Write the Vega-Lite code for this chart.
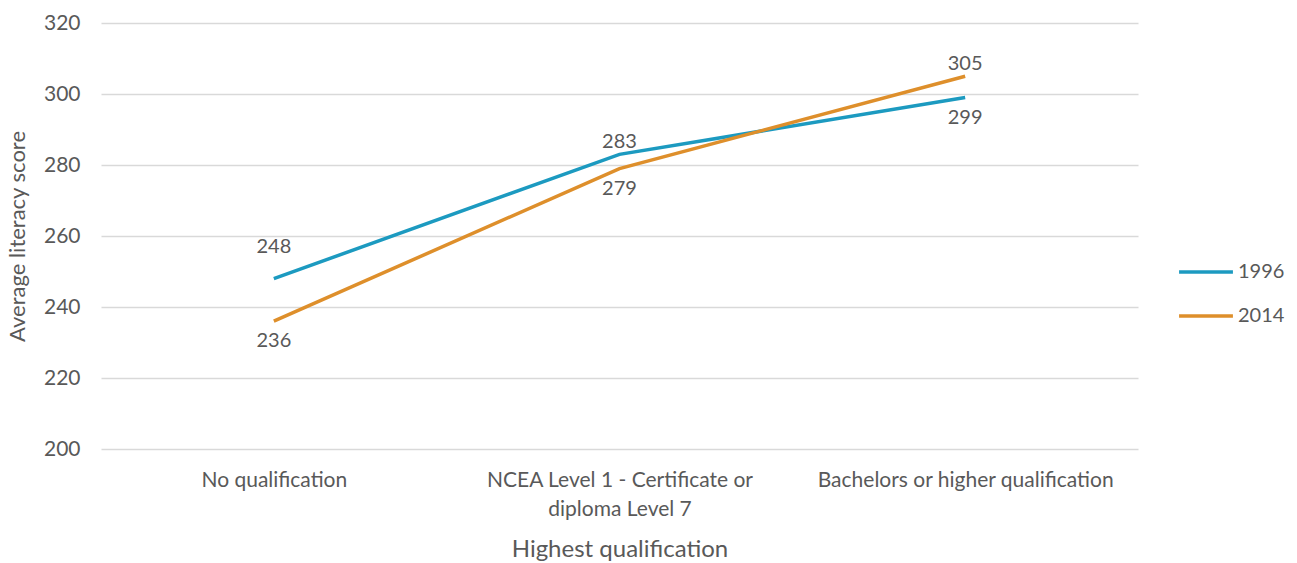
{
  "$schema": "https://vega.github.io/schema/vega-lite/v6.json",
  "width": 1037,
  "height": 426,
  "autosize": {"type": "none"},
  "padding": {"left": 101, "top": 23, "right": 159, "bottom": 114},
  "background": "white",
  "config": {
    "view": {"stroke": null},
    "font": "Lato",
    "axis": {"labelFont": "Lato", "titleFont": "Lato", "labelColor": "#595959", "titleColor": "#595959", "titleFontWeight": "normal"},
    "legend": {"labelFont": "Lato"}
  },
  "data": {
    "values": [
      {"qual": "No qualification", "year": "1996", "score": 248},
      {"qual": "NCEA Level 1 - Certificate or diploma Level 7", "year": "1996", "score": 283},
      {"qual": "Bachelors or higher qualification", "year": "1996", "score": 299},
      {"qual": "No qualification", "year": "2014", "score": 236},
      {"qual": "NCEA Level 1 - Certificate or diploma Level 7", "year": "2014", "score": 279},
      {"qual": "Bachelors or higher qualification", "year": "2014", "score": 305}
    ]
  },
  "encoding": {
    "x": {
      "field": "qual", "type": "nominal", "sort": null,
      "scale": {"type": "point", "padding": 0.5},
      "axis": {
        "title": "Highest qualification", "titleFontSize": 24, "titlePadding": 18,
        "labelAngle": 0, "labelFontSize": 21, "labelPadding": 20, "labelLineHeight": 29, "labelLimit": 0,
        "labelExpr": "datum.label == 'NCEA Level 1 - Certificate or diploma Level 7' ? ['NCEA Level 1 - Certificate or', 'diploma Level 7'] : datum.label",
        "domain": false, "ticks": false, "grid": false
      }
    },
    "y": {
      "field": "score", "type": "quantitative",
      "scale": {"domain": [200, 320], "nice": false, "zero": false},
      "axis": {
        "title": "Average literacy score", "titleFontSize": 22, "titlePadding": 14,
        "values": [200, 220, 240, 260, 280, 300, 320],
        "labelFontSize": 21, "labelPadding": 21,
        "domain": false, "ticks": false, "grid": true, "gridColor": "#d9d9d9", "gridWidth": 1.5
      }
    },
    "color": {
      "field": "year", "type": "nominal",
      "scale": {"domain": ["1996", "2014"], "range": ["#1c9ac0", "#de8f2b"]},
      "legend": {
        "title": null, "orient": "none", "legendX": 1076, "legendY": 220,
        "symbolType": "stroke", "symbolSize": 2900, "symbolStrokeWidth": 3.5,
        "labelFontSize": 20, "labelColor": "#595959", "labelOffset": 3, "rowPadding": 5
      }
    }
  },
  "layer": [
    {"mark": {"type": "line", "strokeWidth": 3.5}},
    {
      "transform": [{"filter": "(datum.year == '1996' && datum.score != 248 && datum.score != 299) || (datum.year == '2014' && datum.score == 305)"}],
      "mark": {"type": "text", "dy": -12, "fontSize": 20, "color": "#595959"},
      "encoding": {"text": {"field": "score"}, "color": {"value": "#595959"}}
    },
    {
      "transform": [{"filter": "datum.score == 248"}],
      "mark": {"type": "text", "dy": -32, "fontSize": 20, "color": "#595959"},
      "encoding": {"text": {"field": "score"}, "color": {"value": "#595959"}}
    },
    {
      "transform": [{"filter": "(datum.year == '2014' && datum.score != 305) || datum.score == 299"}],
      "mark": {"type": "text", "dy": 20, "fontSize": 20, "color": "#595959"},
      "encoding": {"text": {"field": "score"}, "color": {"value": "#595959"}}
    }
  ]
}
